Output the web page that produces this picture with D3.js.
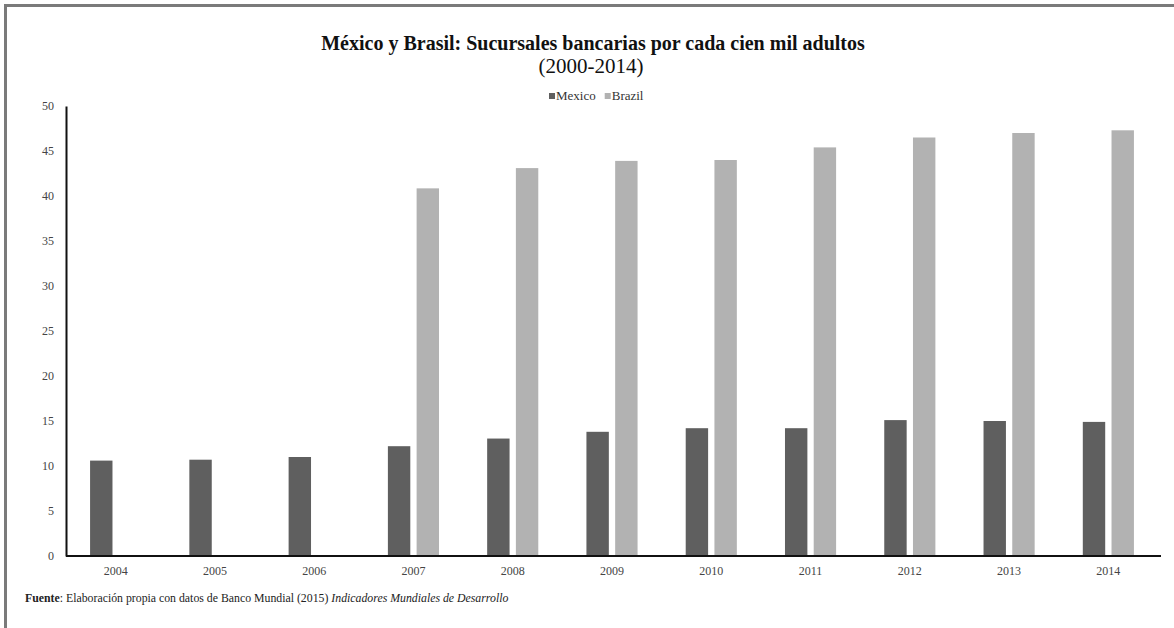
<!DOCTYPE html>
<html><head><meta charset="utf-8">
<script src="https://cdn.jsdelivr.net/npm/d3@7"></script>
<style>
html,body{margin:0;padding:0;background:#fff;}
svg{display:block;}
svg text{font-family:"Liberation Serif","Times New Roman",serif;}
</style></head>
<body>
<svg id="chart" width="1174" height="628"></svg>
<script>
const years = ["2004","2005","2006","2007","2008","2009","2010","2011","2012","2013","2014"];
const seriesNames = ["Mexico","Brazil"];
const mexico = [10.6, 10.7, 11.0, 12.2, 13.05, 13.8, 14.2, 14.2, 15.1, 15.0, 14.9];
const brazil = [null, null, null, 40.85, 43.1, 43.9, 44.0, 45.4, 46.5, 47.0, 47.3];
const yTicks = [0,5,10,15,20,25,30,35,40,45,50];
const colors = ["#5f5f5f","#b2b2b2"];

(function(){
const FONT = "'Liberation Serif', 'Times New Roman', serif";
const svg = d3.select("#chart");
const W = 1174, H = 628;
svg.append("rect").attr("width",W).attr("height",H).attr("fill","#fff");
// frame (top and left visible)
svg.append("path").attr("d","M5.5,628 L5.5,5.5 L1174,5.5").attr("fill","none").attr("stroke","#7a7a7a").attr("stroke-width",3);

const mLeft = 66, mRight = 1158, mTop = 106, mBottom = 556;
const x0 = d3.scaleBand().domain(years).range([mLeft,mRight]).paddingInner(0.485).paddingOuter(0.2425);
const x1 = d3.scaleBand().domain(seriesNames).range([0,x0.bandwidth()]).paddingInner(0.22);
const y = d3.scaleLinear().domain([0,50]).range([mBottom,mTop]);

// title
svg.append("text").attr("x",593).attr("y",50).attr("text-anchor","middle").attr("font-family",FONT)
  .attr("font-size",20).attr("font-weight","bold").attr("fill","#111")
  .text("México y Brasil: Sucursales bancarias por cada cien mil adultos");
svg.append("text").attr("x",591).attr("y",73).attr("text-anchor","middle").attr("font-family",FONT)
  .attr("font-size",21).attr("fill","#111").text("(2000-2014)");

// legend
const lg = svg.append("g").attr("font-size",13).attr("fill","#333").attr("font-family",FONT);
let lx = 549;
seriesNames.forEach((name,i)=>{
  lg.append("rect").attr("x",lx).attr("y",93).attr("width",6).attr("height",6).attr("fill",colors[i]);
  const t = lg.append("text").attr("x",lx+7).attr("y",100).attr("font-family",FONT).text(name);
  lx += 7 + t.node().getComputedTextLength() + 9;
});

// bars
const data = years.map((yr,i)=>({year:yr, vals:[mexico[i],brazil[i]]}));
const g = svg.append("g");
data.forEach(d=>{
  d.vals.forEach((v,j)=>{
    if(v==null) return;
    g.append("rect")
      .attr("x", x0(d.year)+x1(seriesNames[j]))
      .attr("width", x1.bandwidth())
      .attr("y", y(v))
      .attr("height", y(0)-y(v))
      .attr("fill", colors[j]);
  });
});

// y axis
const yAxis = d3.axisLeft(y).tickValues(yTicks).tickSize(0).tickPadding(12);
const ya = svg.append("g").attr("transform",`translate(${mLeft},0)`).call(yAxis).attr("font-family",FONT);
ya.select(".domain").attr("stroke","#111").attr("stroke-width",2);
ya.selectAll("text").attr("font-family",FONT).attr("font-size",12).attr("fill","#444");

// x axis
const xAxis = d3.axisBottom(x0).tickSize(0).tickPadding(10);
const xa = svg.append("g").attr("transform",`translate(0,${mBottom})`).call(xAxis).attr("font-family",FONT);
xa.select(".domain").attr("stroke","#111").attr("stroke-width",2).attr("d",`M${mLeft},0H${mRight+3}`);
xa.selectAll("text").attr("font-family",FONT).attr("font-size",12).attr("fill","#444");

// source
const src = svg.append("text").attr("x",25).attr("y",602).attr("font-size",11.8).attr("fill","#222").attr("font-family",FONT);
src.append("tspan").attr("font-weight","bold").text("Fuente");
src.append("tspan").text(": Elaboración propia con datos de Banco Mundial (2015) ");
src.append("tspan").attr("font-style","italic").text("Indicadores Mundiales de Desarrollo");
})();
</script>
</body></html>
